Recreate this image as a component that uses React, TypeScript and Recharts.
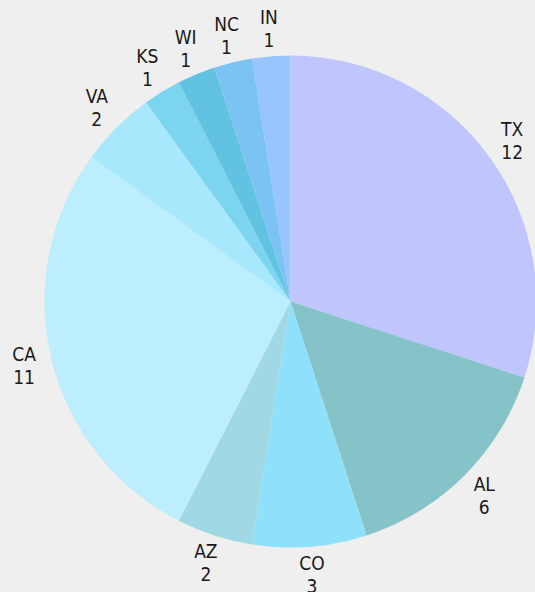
import { PieChart, Pie, Cell } from 'recharts'

const STATES = ['TX', 'AL', 'CO', 'AZ', 'CA', 'VA', 'KS', 'WI', 'NC', 'IN']
const COUNTS = [12, 6, 3, 2, 11, 2, 1, 1, 1, 1]
const COLORS = [
  '#c1c5fe',
  '#86c3c9',
  '#8fe1fb',
  '#a0d9e4',
  '#bdeefe',
  '#a7e8fc',
  '#7bd4f0',
  '#61c2e2',
  '#7ac3f2',
  '#98c5fd',
]

const data = STATES.map((s, i) => ({ name: s, value: COUNTS[i] }))

const RAD = Math.PI / 180

function renderLabel(props: any) {
  const { cx, cy, midAngle, outerRadius, name, value } = props
  const r = outerRadius + 28
  const x = cx + r * Math.cos(-midAngle * RAD)
  const y = cy + r * Math.sin(-midAngle * RAD)
  return (
    <text
      x={x}
      y={y}
      textAnchor="middle"
      fill="#1a1a1a"
      fontSize={19}
      fontFamily="'DejaVu Sans Condensed', 'DejaVu Sans', sans-serif"
    >
      <tspan x={x} y={y - 4.5}>{name}</tspan>
      <tspan x={x} y={y + 18.5}>{value}</tspan>
    </text>
  )
}

export default function App() {
  return (
    <div style={{ position: 'fixed', left: 0, top: 0, width: 535, height: 592, background: '#efefef' }}>
      <PieChart width={535} height={592} margin={{ top: 0, right: 0, bottom: 0, left: 0 }}>
        <Pie
          data={data}
          dataKey="value"
          nameKey="name"
          cx={290.5}
          cy={301.5}
          outerRadius={246}
          startAngle={90}
          endAngle={-270}
          stroke="none"
          label={renderLabel}
          labelLine={false}
          isAnimationActive={false}
        >
          {data.map((d, i) => (
            <Cell key={d.name} fill={COLORS[i]} />
          ))}
        </Pie>
      </PieChart>
    </div>
  )
}
